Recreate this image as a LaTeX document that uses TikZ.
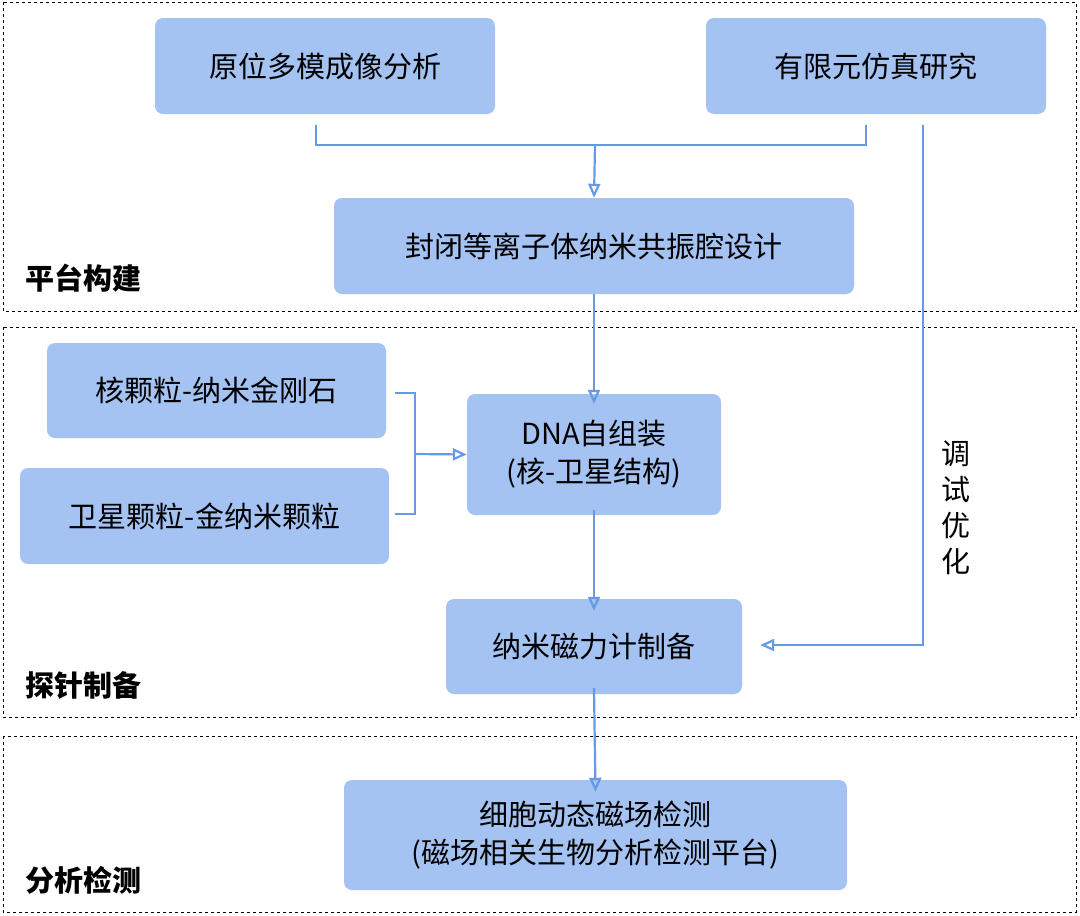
\documentclass[tikz,border=0pt]{standalone}
\usepackage{fontspec}
\setmainfont{Noto Sans CJK SC}
\usetikzlibrary{arrows.meta}
\definecolor{boxblue}{RGB}{164,194,242}
\definecolor{lineblue}{RGB}{102,153,230}
\tikzset{
  blk/.style={draw=none,fill=boxblue,rounded corners=8pt,inner sep=0pt,font=\fontsize{29}{38}\selectfont,align=center},
  zone/.style={draw=black,dashed,line width=0.9pt},
  zonelbl/.style={anchor=west,font=\fontsize{29}{34}\selectfont\bfseries,inner sep=0pt},
  flow/.style={draw=lineblue,line width=2.2pt,-{Stealth[length=14pt,width=12pt,inset=0pt,open=false]}},
  wire/.style={draw=lineblue,line width=2.2pt}
}
\begin{document}
\begin{tikzpicture}[x=1pt,y=-1pt]
		\useasboundingbox (0,0) rectangle (1080,916);
		% dashed zones
		\draw[zone] (3,2) rectangle (1076,311);
		\draw[zone] (3,327) rectangle (1076,717);
		\draw[zone] (3,736) rectangle (1076,912);
		\node[zonelbl] (lblA) at (25,278) {平台构建};
		\node[zonelbl] (lblB) at (25,686) {探针制备};
		\node[zonelbl] (lblC) at (25,880) {分析检测};

		% boxes
		\node[blk,minimum width=340pt,minimum height=96pt] (image) at (325,66) {原位多模成像分析};
		\node[blk,minimum width=340pt,minimum height=96pt] (fem) at (876,66) {有限元仿真研究};
		\node[blk,minimum width=520pt,minimum height=96pt] (cavity) at (594,246) {封闭等离子体纳米共振腔设计};
		\node[blk,minimum width=339pt,minimum height=95pt] (core) at (216.5,390.5) {核颗粒-纳米金刚石};
		\node[blk,minimum width=369pt,minimum height=96pt] (sat) at (204.5,516) {卫星颗粒-金纳米颗粒};
		\node[blk,minimum width=254pt,minimum height=121pt] (dna) at (594,454.5) {DNA自组装\\(核-卫星结构)};
		\node[blk,minimum width=296pt,minimum height=95pt] (meter) at (594,646.5) {纳米磁力计制备};
		\node[blk,minimum width=503pt,minimum height=110pt] (cell) at (595.5,835) {细胞动态磁场检测\\(磁场相关生物分析检测平台)};

		% connectors
		\coordinate (bl) at (316,145);
		\coordinate (br) at (866,145);
		\coordinate (bm) at (595,145);
		\draw[wire] (316,125) -- (bl) -- (br) -- (866,125);
		\draw[flow] (bm) -- (cavity.north);
		\draw[flow] (cavity.south) -- ([yshift=-10pt]dna.north);
		\coordinate (jt) at (415,393);
		\coordinate (jb) at (415,514);
		\coordinate (jm) at (415,454);
		\draw[wire] (core.east |- jt) ++(9,0) -- (jt) -- (jb) -- ++(-20,0);
		\draw[flow] (jm) -- (dna.west);
		\draw[flow] ([yshift=5pt]dna.south) -- ([yshift=-12pt]meter.north);
		\draw[flow] ([yshift=6pt]meter.south) -- ([yshift=-12pt]cell.north);
		\coordinate (fb) at (923,645);
		\draw[flow] (923,125) -- (fb) -- ([xshift=18pt]meter.east |- fb);
		\node[font=\fontsize{29}{36}\selectfont,align=center,inner sep=0pt] (tune) at (956,508) {调\\试\\优\\化};
\end{tikzpicture}
\end{document}
